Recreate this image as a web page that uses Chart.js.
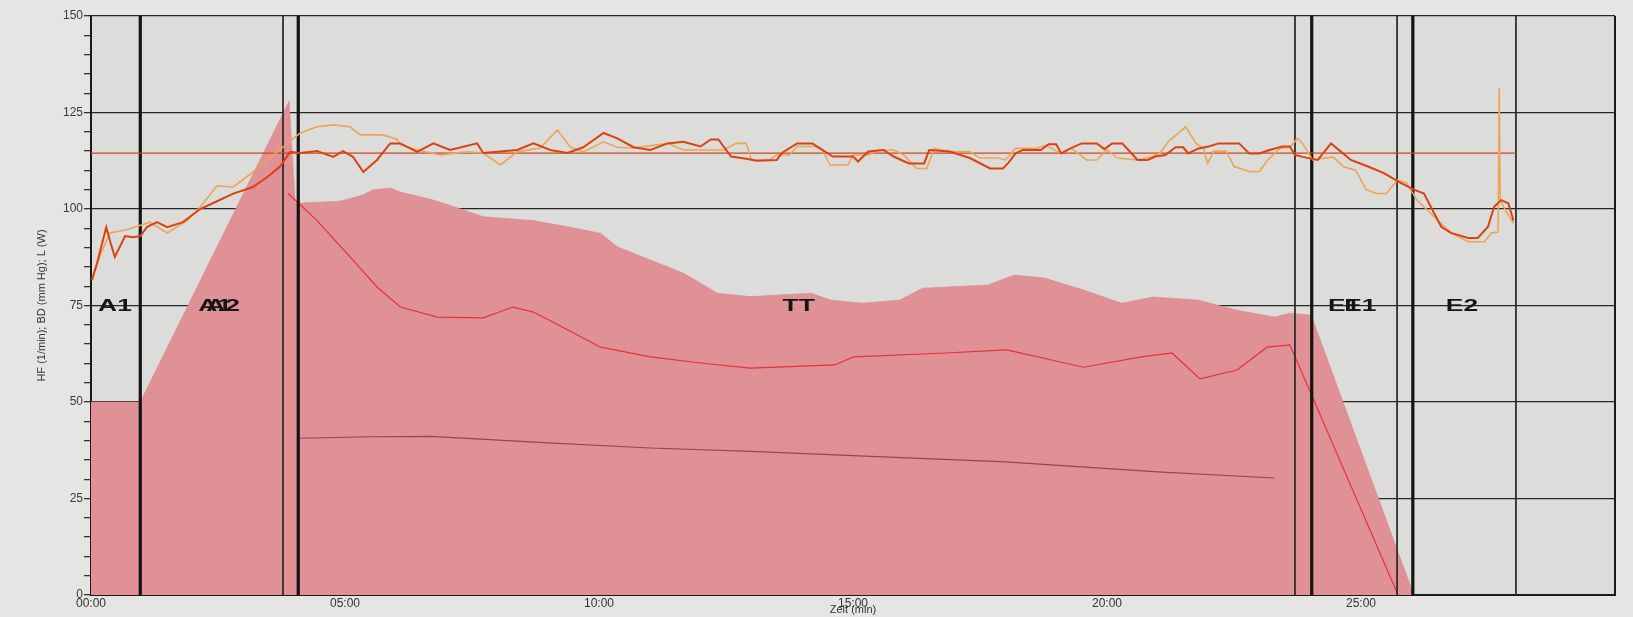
<!DOCTYPE html>
<html>
<head>
<meta charset="utf-8">
<title>Belastung / HF</title>
<script src="https://cdn.jsdelivr.net/npm/chart.js@4.4.1/dist/chart.umd.min.js"></script>
<style>
  html, body { margin: 0; padding: 0; background: #e4e4e2; }
  #wrap { width: 1633px; height: 617px; position: relative; }
</style>
</head>
<body>
<div id="wrap"><canvas id="grafica"></canvas></div>
<script>
// Zeit (min) -> Wert
const hfDark = [
    [0.02, 81.6], [0.12, 86], [0.3, 95.3], [0.39, 91], [0.47, 87.6], [0.67, 93], [0.83, 92.7], [0.97, 93],
    [1.1, 95.3], [1.3, 96.6], [1.5, 95.3], [1.81, 96.6], [2.0, 98.5], [2.15, 100], [2.48, 102], [2.8, 104],
    [3.19, 105.7], [3.47, 108.3], [3.72, 111], [3.92, 114.8], [4.12, 114.5], [4.45, 115], [4.77, 113.5],
    [4.96, 115], [5.16, 113.5], [5.36, 109.6], [5.63, 112.7], [5.89, 117], [6.09, 117], [6.42, 114.8],
    [6.74, 117], [7.07, 115.3], [7.6, 117], [7.72, 114.5], [8.39, 115.3], [8.71, 117], [9.04, 115.3],
    [9.38, 114.5], [9.69, 116], [10.09, 119.7], [10.36, 118.3], [10.68, 116], [11.01, 115.3], [11.35, 117],
    [11.66, 117.4], [12.0, 116.2], [12.2, 118], [12.35, 118], [12.6, 113.6], [12.9, 113], [13.1, 112.5],
    [13.5, 112.7], [13.6, 114.5], [13.9, 117], [14.2, 117], [14.35, 115.7], [14.6, 113.6], [15.0, 113.6],
    [15.1, 112.3], [15.3, 114.9], [15.6, 115.3], [15.8, 113.6], [16.1, 111.8], [16.4, 111.8], [16.5, 115.3],
    [16.9, 114.9], [17.3, 113.2], [17.7, 110.5], [17.95, 110.5], [18.05, 111.8], [18.2, 114.4], [18.35, 115.3],
    [18.7, 115.3], [18.85, 116.8], [19.0, 116.8], [19.1, 114.4], [19.25, 115.5], [19.5, 117], [19.8, 117],
    [19.95, 115.5], [20.1, 117], [20.3, 117], [20.45, 114.9], [20.6, 112.7], [20.8, 112.7], [20.95, 113.6],
    [21.15, 114], [21.35, 116], [21.5, 116], [21.6, 114.4], [21.8, 115.7], [22.0, 116.2], [22.2, 117],
    [22.6, 117], [22.8, 114.4], [23.0, 114.4], [23.2, 115.3], [23.45, 116.2], [23.6, 116.2], [23.7, 114],
    [23.85, 113.5], [24.15, 112.7], [24.41, 117], [24.61, 114.8], [24.8, 112.7], [25.14, 111], [25.45, 109.3],
    [25.79, 106.7], [26.04, 105], [26.24, 104], [26.44, 98.9], [26.58, 95.4], [26.77, 93.8], [27.11, 92.5],
    [27.3, 92.5], [27.5, 95.4], [27.62, 100.6], [27.76, 102.3], [27.9, 101.5], [28.0, 97]
];
const hfLight = [
    [0.02, 82], [0.2, 88.6], [0.37, 93.8], [0.7, 94.6], [1.16, 96.6], [1.5, 93.8], [1.89, 97], [2.15, 100.5],
    [2.48, 106], [2.8, 105.7], [3.13, 109], [3.47, 112.7], [3.78, 116], [4.12, 119.7], [4.45, 121.3],
    [4.77, 121.8], [5.1, 121.3], [5.3, 119.2], [5.75, 119.2], [6.03, 118], [6.09, 116.6], [6.42, 115.3],
    [6.87, 114], [7.4, 114.8], [7.72, 114.5], [8.06, 111.4], [8.39, 114.8], [8.84, 115.8], [9.18, 120.5],
    [9.44, 116], [9.69, 114.8], [10.09, 117.4], [10.36, 116], [10.68, 115.8], [11.35, 117], [11.66, 115.3],
    [12.0, 115.3], [12.45, 115.3], [12.7, 117], [12.9, 117], [13.0, 112.7], [13.35, 112.7], [13.5, 114],
    [13.75, 114], [13.9, 116.2], [14.25, 116.2], [14.4, 115.3], [14.55, 111.4], [14.9, 111.4], [15.0, 114],
    [15.3, 114], [15.5, 115.3], [15.8, 115.3], [16.0, 114], [16.25, 110.5], [16.45, 110.5], [16.6, 115.7],
    [16.9, 114.9], [17.3, 114.9], [17.5, 113.2], [17.85, 113.2], [18.0, 112.7], [18.2, 115.7], [18.6, 115.7],
    [18.8, 116.5], [19.1, 114.4], [19.3, 115.7], [19.6, 112.7], [19.8, 112.7], [20.0, 115.3], [20.2, 113.2],
    [20.6, 112.7], [20.9, 113.6], [21.05, 114.5], [21.2, 117.4], [21.55, 121.3], [21.75, 117], [21.9, 115.7],
    [21.98, 111.8], [22.1, 115], [22.35, 115], [22.5, 111], [22.8, 109.7], [23.0, 109.7], [23.15, 112.5],
    [23.4, 115.7], [23.6, 116], [23.75, 118.3], [23.85, 117], [24.05, 112.7], [24.45, 113.5], [24.65, 111],
    [24.9, 110], [25.1, 105], [25.3, 104], [25.5, 104], [25.72, 107.5], [25.9, 106.7], [26.1, 102.3],
    [26.44, 98], [26.77, 93.8], [27.11, 91.5], [27.43, 91.5], [27.57, 93.8], [27.7, 94], [27.72, 131.3],
    [27.74, 102.3], [27.87, 99], [28.0, 96.3]
];
const hfRef = [[0, 114.5], [28.05, 114.5]];
const loadW = [
    [0, 50], [0.97, 50], [3.9, 128], [4.02, 101.5], [4.9, 102], [5.35, 103.6], [5.55, 105], [5.9, 105.4],
    [6.09, 104.4], [6.74, 102.3], [7.21, 100.3], [7.72, 98], [8.71, 97], [9.38, 95.4], [10.03, 93.7],
    [10.36, 90.2], [11.01, 86.8], [11.66, 83.4], [12.33, 78.2], [12.98, 77.3], [14.18, 78.2], [14.56, 76.4],
    [15.17, 75.6], [15.92, 76.4], [16.37, 79.5], [17.65, 80.3], [18.18, 82.9], [18.77, 82.1], [19.54, 79],
    [20.29, 75.6], [20.9, 77.2], [21.79, 76.4], [22.56, 73.8], [23.3, 72], [23.6, 73], [24.02, 72.5],
    [26.04, 0]
];
const loadTarget = [
    [3.88, 104], [4.45, 97], [5.1, 87.6], [5.63, 79.8], [6.09, 74.6], [6.82, 72], [7.72, 71.8], [8.31, 74.6],
    [8.71, 73.3], [9.38, 68.7], [10.03, 64.2], [11.01, 61.7], [12.0, 60.1], [12.98, 58.8], [14.64, 59.6],
    [15.01, 61.7], [16.82, 62.7], [18.03, 63.5], [19.54, 59], [20.67, 61.7], [21.28, 62.7], [21.83, 56],
    [22.56, 58.3], [23.15, 64.2], [23.6, 64.8], [25.73, 0]
];
const bdLine = [
    [4.1, 40.6], [5.5, 41.0], [6.7, 41.1], [9.0, 39.4], [11.0, 38.1], [13.0, 37.2], [15.0, 36.1],
    [18.0, 34.5], [21.0, 31.9], [23.3, 30.3]
];
const thickMarkers = [0.97, 4.08, 24.03, 26.02];
const thinMarkers = [3.78, 23.70, 25.71, 28.05];
const phaseLabels = [
    ['A1', 0.14], ['A1', 2.11], ['A2', 2.27], ['T', 13.61], ['T', 13.93],
    ['E1', 24.35], ['E1', 24.67], ['E2', 26.67]
];
const labelLevel = 75;

function pts(arr) {
    return arr.map(p => ({ x: p[0], y: p[1] }));
}

function fmtMin(v) {
    return String(v).padStart(2, '0') + ':00';
}

const paperBg = {
    id: 'paperBg',
    beforeDraw(chart) {
        const { ctx, chartArea } = chart;
        ctx.save();
        ctx.fillStyle = '#e5e5e3';
        ctx.fillRect(0, 0, chart.width, chart.height);
        ctx.fillStyle = '#dcdcda';
        ctx.fillRect(chartArea.left, chartArea.top, chartArea.right - chartArea.left, chartArea.bottom - chartArea.top);
        ctx.restore();
    }
};

// Phasenbeschriftung (A1, A2, T, E1, E2)
const phaseText = {
    id: 'phaseText',
    afterDatasetsDraw(chart) {
        const { ctx, scales } = chart;
        const y = scales.y.getPixelForValue(labelLevel);
        ctx.save();
        ctx.fillStyle = '#151515';
        ctx.font = 'bold 17px "Liberation Sans", Arial, sans-serif';
        ctx.textBaseline = 'middle';
        ctx.textAlign = 'left';
        phaseLabels.forEach(([txt, t]) => {
            const x = scales.x.getPixelForValue(t);
            ctx.save();
            ctx.translate(x, y);
            ctx.scale(1.55, 1);
            ctx.fillText(txt, 0, 1);
            ctx.restore();
        });
        ctx.restore();
    }
};

const markerSets = [];
thickMarkers.forEach(t => {
    markerSets.push({
        data: [{ x: t, y: 0 }, { x: t, y: 150 }],
        borderColor: '#141414',
        borderWidth: 3.2,
        pointRadius: 0,
        order: 5
    });
});
thinMarkers.forEach(t => {
    markerSets.push({
        data: [{ x: t, y: 0 }, { x: t, y: 150 }],
        borderColor: '#2e2e2e',
        borderWidth: 1.8,
        pointRadius: 0,
        order: 6
    });
});

const canvas = document.getElementById('grafica');
const chart = new Chart(canvas, {
    type: 'line',
    data: {
        datasets: [
            {
                label: 'HF',
                data: pts(hfDark),
                borderColor: '#d9430f',
                borderWidth: 2,
                pointRadius: 0,
                order: 1
            },
            {
                label: 'HF 2',
                data: pts(hfLight),
                borderColor: '#eea458',
                borderWidth: 1.6,
                pointRadius: 0,
                order: 2
            },
            {
                label: 'HF Ziel',
                data: pts(hfRef),
                borderColor: '#c9481f',
                borderWidth: 1.3,
                pointRadius: 0,
                order: 3
            },
            ...markerSets,
            {
                label: 'Soll',
                data: pts(loadTarget),
                borderColor: '#e0343a',
                borderWidth: 1.2,
                pointRadius: 0,
                order: 7
            },
            {
                label: 'BD',
                data: pts(bdLine),
                borderColor: '#9a4450',
                borderWidth: 1.1,
                pointRadius: 0,
                order: 8
            },
            {
                label: 'L (W)',
                data: pts(loadW),
                borderColor: '#d98389',
                borderWidth: 0.5,
                backgroundColor: '#df9196',
                fill: 'origin',
                pointRadius: 0,
                order: 10
            }
        ]
    },
    options: {
        responsive: true,
        maintainAspectRatio: false,
        animation: false,
        layout: { padding: { top: 16, right: 18, left: 0, bottom: 0 } },
        plugins: {
            legend: { display: false },
            tooltip: { enabled: false }
        },
        scales: {
            x: {
                type: 'linear',
                min: 0,
                max: 30,
                afterFit: s => { s.height = 22; },
                grid: {
                    drawTicks: false,
                    color: c => (c.tick && c.tick.value === 30 ? '#1a1a1a' : 'rgba(0,0,0,0)'),
                    lineWidth: 2
                },
                border: { display: true, color: '#1a1a1a', width: 2 },
                ticks: {
                    stepSize: 5,
                    autoSkip: false,
                    maxRotation: 0,
                    padding: 1,
                    color: '#333',
                    font: { family: '"Liberation Sans", Arial, sans-serif', size: 12 },
                    callback: v => (v === 30 ? '' : fmtMin(v))
                },
                title: {
                    display: true,
                    text: 'Zeit (min)',
                    color: '#333',
                    padding: { top: 0, bottom: 0 },
                    font: { family: '"Liberation Sans", Arial, sans-serif', size: 11 }
                }
            },
            y: {
                min: 0,
                max: 150,
                afterFit: s => { s.width = 91; },
                grid: {
                    color: c => (c.tick && c.tick.value % 25 === 0 ? '#262626' : 'rgba(0,0,0,0)'),
                    tickColor: '#333',
                    lineWidth: 1.3,
                    tickLength: 7
                },
                border: { display: true, color: '#1a1a1a', width: 2 },
                ticks: {
                    stepSize: 5,
                    autoSkip: false,
                    padding: 1,
                    color: '#3a3a3a',
                    font: { family: '"Liberation Sans", Arial, sans-serif', size: 12 },
                    callback: v => (v % 25 === 0 ? v : '')
                },
                title: {
                    display: true,
                    text: 'HF (1/min); BD (mm Hg); L (W)',
                    color: '#333',
                    padding: { top: 35, bottom: 0 },
                    font: { family: '"Liberation Sans", Arial, sans-serif', size: 11 }
                }
            }
        }
    },
    plugins: [paperBg, phaseText]
});
</script>
</body>
</html>
